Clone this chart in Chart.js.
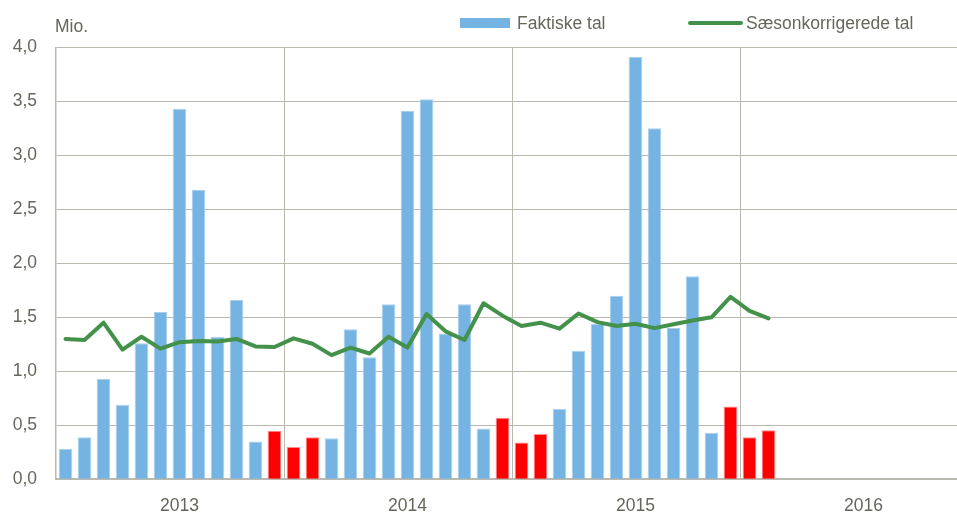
<!DOCTYPE html>
<html>
<head>
<meta charset="utf-8">
<script src="https://cdn.jsdelivr.net/npm/chart.js@4/dist/chart.umd.min.js"></script>
<style>
  html, body { margin: 0; padding: 0; background: #fff; overflow: hidden; width: 957px; height: 515px; }
  #wrap { position: relative; width: 1000px; height: 515px; }
  #c { position: absolute; left: 0; top: 0; }
  .txt { position: absolute; font-family: "Liberation Sans", Arial, sans-serif; font-size: 17.5px; line-height: 20px; color: #66665c; white-space: nowrap; }
  .sw { position: absolute; }
</style>
</head>
<body>
<div id="wrap">
  <canvas id="c" width="1000" height="515"></canvas>
  <div class="txt" id="unit" style="left:55px; top:15.5px;">Mio.</div>
  <div id="legend"></div>
</div>
<script>
// ---- data ----
const years = ['2013', '2014', '2015', '2016'];
const monthNames = ['jan', 'feb', 'mar', 'apr', 'maj', 'jun', 'jul', 'aug', 'sep', 'okt', 'nov', 'dec'];
// winter seasons highlighted in red: December of the year plus January and February of the next year
const winterSeasons = ['2013', '2014', '2015'];
const yTicks = [0, 0.5, 1, 1.5, 2, 2.5, 3, 3.5, 4];

const faktiske = [
  0.28, 0.39, 0.93, 0.69, 1.26, 1.55, 3.43, 2.68, 1.32, 1.66, 0.35, 0.45,
  0.30, 0.39, 0.38, 1.39, 1.13, 1.62, 3.41, 3.52, 1.35, 1.62, 0.47, 0.57,
  0.34, 0.42, 0.65, 1.19, 1.44, 1.70, 3.91, 3.25, 1.40, 1.88, 0.43, 0.675,
  0.39, 0.455
];
const saesonkorrigeret = [
  1.30, 1.29, 1.45, 1.20, 1.32, 1.21, 1.27, 1.28, 1.275, 1.30, 1.23, 1.225,
  1.305, 1.255, 1.15, 1.22, 1.165, 1.32, 1.22, 1.53, 1.37, 1.29, 1.63, 1.515,
  1.42, 1.45, 1.395, 1.535, 1.455, 1.42, 1.44, 1.40, 1.435, 1.47, 1.50, 1.69, 1.56, 1.49
];
const seriesNames = ['Faktiske tal', 'Sæsonkorrigerede tal'];

// ---- build categories ----
const categories = [];
years.forEach(y => monthNames.forEach(m => categories.push(y + ' ' + m)));
const winterCats = [];
winterSeasons.forEach(y => {
  winterCats.push(y + ' dec');
  const next = String(Number(y) + 1);
  winterCats.push(next + ' jan', next + ' feb');
});
const isLow = i => winterCats.includes(categories[i]);

const blueData = faktiske.map((v, i) => isLow(i) ? null : v);
const redData = faktiske.map((v, i) => isLow(i) ? v : null);

const BLUE = '#74b3e2', RED = '#ff0000', GREEN = '#43914a';
const GRID = '#b9b9b0', TEXT = '#66665c';
const FONT = { family: '"Liberation Sans", Arial, sans-serif', size: 17.5 };

const chart = new Chart(document.getElementById('c'), {
  type: 'bar',
  data: {
    labels: categories,
    datasets: [
      {
        type: 'line', label: seriesNames[1], data: saesonkorrigeret,
        borderColor: GREEN, backgroundColor: GREEN, borderWidth: 4,
        pointRadius: 0, tension: 0, order: 0, borderJoinStyle: 'round', borderCapStyle: 'round'
      },
      {
        label: seriesNames[0], data: blueData, backgroundColor: BLUE,
        borderColor: '#a9cfee', borderWidth: 1, grouped: false, order: 1,
        categoryPercentage: 1, barPercentage: 0.72
      },
      {
        label: 'lavsæson', data: redData, backgroundColor: RED,
        borderColor: '#ff8a8a', borderWidth: 1, grouped: false, order: 1,
        categoryPercentage: 1, barPercentage: 0.72
      }
    ]
  },
  options: {
    responsive: false,
    animation: false,
    devicePixelRatio: 1,
    layout: { padding: { left: 0, right: 32, top: 47.3, bottom: 0 } },
    plugins: { legend: { display: false }, tooltip: { enabled: false }, title: { display: false } },
    scales: {
      x: {
        type: 'category',
        offset: true,
        grid: {
          offset: true, drawTicks: false, lineWidth: 1,
          color: c => (c.index % 12 === 0 && c.index > 0) ? GRID : 'rgba(0,0,0,0)'
        },
        border: { display: true, color: GRID, width: 2 },
        ticks: {
          autoSkip: false, maxRotation: 0, minRotation: 0, padding: 16,
          color: TEXT, font: FONT,
          callback: (v, i) => (i % 12 === 6) ? years[Math.floor(i / 12)] : ''
        },
        afterFit: s => { s.height = 515 - 479.3; }
      },
      y: {
        min: 0, max: 4,
        afterBuildTicks: s => { s.ticks = yTicks.map(v => ({ value: v })); },
        grid: { color: GRID, lineWidth: 1, drawTicks: false },
        border: { display: true, color: GRID, width: 1.5 },
        ticks: {
          padding: 19, color: TEXT, font: FONT,
          callback: v => Number(v).toFixed(1).replace('.', ',')
        },
        afterFit: s => { s.width = 56; }
      }
    }
  }
});

// ---- legend built from the chart's own datasets ----
const legend = document.getElementById('legend');
const bar = chart.data.datasets[1], line = chart.data.datasets[0];
legend.innerHTML =
  '<div class="sw" style="left:460px;top:18px;width:50px;height:10px;background:' + bar.backgroundColor + '"></div>' +
  '<div class="txt" style="left:517px;top:12.6px;">' + bar.label + '</div>' +
  '<div class="sw" style="left:688px;top:21px;width:55px;height:4px;border-radius:2px;background:' + line.borderColor + '"></div>' +
  '<div class="txt" style="left:746px;top:12.6px;">' + line.label + '</div>';
</script>
</body>
</html>
